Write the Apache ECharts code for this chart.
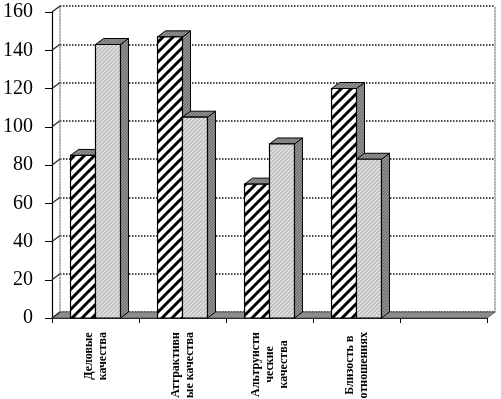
<!DOCTYPE html>
<html><head><meta charset="utf-8">
<script src="https://cdn.jsdelivr.net/npm/echarts@6/dist/echarts.min.js"></script>
<style>html,body{margin:0;padding:0;background:#fff}#c{width:501px;height:399px}</style>
</head><body><div id="c"></div>
<script>
const categories = ['Деловые\nкачества', 'Аттрактивн\nые качества', 'Альтруисти\nческие\nкачества', 'Близость в\nотношениях', ''];
const seriesA = [85, 147, 70, 120, null];
const seriesB = [143, 105, 91, 83, null];
const yTicks = [0, 20, 40, 60, 80, 100, 120, 140, 160];

const D = 8, DY = 6;
function makeHatch(size, bg, fg, lw) {
  const c = document.createElement('canvas'); c.width = c.height = size;
  const g = c.getContext('2d'); g.fillStyle = bg; g.fillRect(0, 0, size, size);
  g.strokeStyle = fg; g.lineWidth = lw; g.beginPath();
  for (let k = -2; k <= 2; k++) { g.moveTo(k * size - size, 2 * size); g.lineTo(k * size + 2 * size, -size); }
  g.stroke(); return c;
}
const patA = { image: makeHatch(10, '#ffffff', '#000000', 3), repeat: 'repeat' };
const patB = { image: makeHatch(4, '#bdbdbd', '#ebebeb', 1.2), repeat: 'repeat' };
const patSide = { image: makeHatch(3, '#777777', '#9c9c9c', 1), repeat: 'repeat' };

function bar3d(sign) {
  return function (params, api) {
    const v = api.value(1);
    if (v == null || isNaN(v)) return;
    const c = api.coord([api.value(0), v]);
    const base = api.coord([api.value(0), 0]);
    const band = api.size([1, 0])[0];
    const w = band * 0.287;
    const x0 = sign < 0 ? c[0] - w : c[0];
    const x1 = x0 + w, yT = c[1], yB = base[1];
    return { type: 'group', children: [
      { type: 'polygon', shape: { points: [[x1, yB], [x1 + D, yB - DY], [x1 + D, yT - DY], [x1, yT]] },
        style: { fill: patSide, stroke: '#000', lineWidth: 1 } },
      { type: 'polygon', shape: { points: [[x0, yT], [x0 + D, yT - DY], [x1 + D, yT - DY], [x1, yT]] },
        style: { fill: patSide, stroke: '#000', lineWidth: 1 } },
      { type: 'rect', shape: { x: x0, y: yT, width: w, height: yB - yT },
        style: { fill: sign < 0 ? patA : patB, stroke: '#000', lineWidth: 1.2 } }
    ] };
  };
}

const chart = echarts.init(document.getElementById('c'));
chart.setOption({
  animation: false,
  grid: [
    { left: 52, right: 14, top: 12, bottom: 81, containLabel: false, outerBoundsMode: 'none' },
    { left: 60, right: 6, top: 6, bottom: 87, containLabel: false, outerBoundsMode: 'none' }
  ],
  xAxis: [
    { type: 'category', gridIndex: 0, data: categories,
      axisLine: { lineStyle: { color: '#000', width: 1.2 } },
      axisTick: { show: true, interval: 0, length: 5, lineStyle: { color: '#000' } },
      axisLabel: { interval: 0, rotate: 90, margin: 14, color: '#000',
        formatter: function (s) { return s ? s.split('\n').map(function (l) { return '{c|' + l + '}'; }).join('\n') : ''; },
        rich: { c: { align: 'center', fontFamily: 'Liberation Serif', fontWeight: 'bold', fontSize: 12, lineHeight: 14, color: '#000' } } } },
    { type: 'category', gridIndex: 1, data: categories, show: false }
  ],
  yAxis: [
    { type: 'value', gridIndex: 0, min: 0, max: 160, interval: 20,
      axisLine: { show: true, lineStyle: { color: '#000', width: 1.2 } },
      axisTick: { show: true, length: 7, lineStyle: { color: '#000' } },
      splitLine: { show: false },
      axisLabel: { margin: 19, color: '#000', fontFamily: 'Liberation Serif', fontSize: 20 } },
    { type: 'value', gridIndex: 1, min: 0, max: 160, interval: 20,
      axisLine: { show: true, lineStyle: { color: '#999', type: 'dotted', width: 1.5 } },
      axisTick: { show: false }, axisLabel: { show: false },
      splitLine: { show: true, lineStyle: { color: '#111', type: 'dotted', width: 1.5 } } },
    { type: 'value', gridIndex: 1, min: 0, max: 160, interval: 20, position: 'right',
      axisLine: { show: true, lineStyle: { color: '#999', type: 'dotted', width: 1.5 } },
      axisTick: { show: false }, axisLabel: { show: false }, splitLine: { show: false } }
  ],
  series: [
    { type: 'custom', xAxisIndex: 0, yAxisIndex: 0, z: 1, data: [[0, 0]],
      renderItem: function (params, api) {
        const band = api.size([1, 0])[0];
        const left = api.coord([0, 0])[0] - band / 2;
        const right = api.coord([categories.length - 1, 0])[0] + band / 2;
        const y0 = api.coord([0, 0])[1];
        const ch = [];
        ch.push({ type: 'polygon', shape: { points: [[left, y0], [right, y0], [right + D, y0 - DY], [left + D, y0 - DY]] },
          style: { fill: '#8c8c8c', stroke: '#555', lineWidth: 1 } });
        yTicks.forEach(function (t) {
          const y = api.coord([0, t])[1];
          ch.push({ type: 'line', shape: { x1: left, y1: y, x2: left + D, y2: y - DY },
            style: { stroke: '#222', lineWidth: 1.2 } });
        });
        return { type: 'group', children: ch };
      } },
    { type: 'custom', name: 'A', xAxisIndex: 0, yAxisIndex: 0, z: 2,
      data: seriesA.map(function (v, i) { return [i, v]; }), renderItem: bar3d(-1) },
    { type: 'custom', name: 'B', xAxisIndex: 0, yAxisIndex: 0, z: 3,
      data: seriesB.map(function (v, i) { return [i, v]; }), renderItem: bar3d(1) }
  ]
});
</script></body></html>
